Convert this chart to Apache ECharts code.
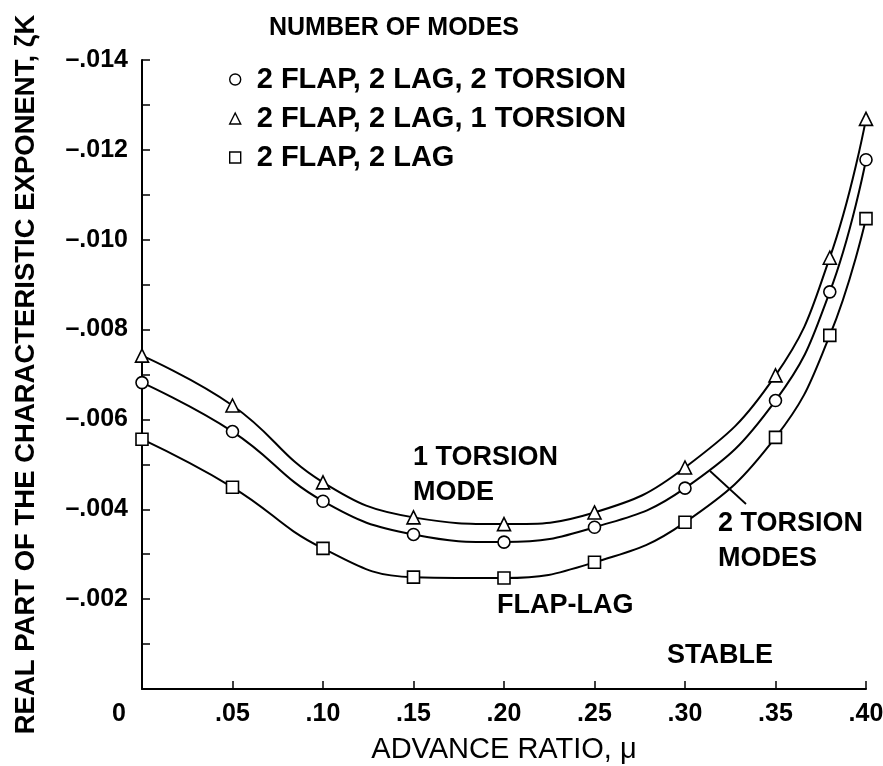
<!DOCTYPE html>
<html>
<head>
<meta charset="utf-8">
<script src="https://cdn.jsdelivr.net/npm/echarts@6/dist/echarts.min.js"></script>
<style>
  html, body { margin: 0; padding: 0; background: #fff; }
  #chart { width: 883px; height: 766px; }
</style>
</head>
<body>
<div id="chart"></div>
<script>
// Advance ratio, mu
const advanceRatio = [0, 0.05, 0.10, 0.15, 0.20, 0.25, 0.30, 0.35, 0.38, 0.40];

// Real part of the characteristic exponent for each modal representation
const flapLagTorsion2 = [-0.00682, -0.00573, -0.00418, -0.00344, -0.00327, -0.00360, -0.00447, -0.00642, -0.00884, -0.01178];
const flapLagTorsion1 = [-0.00742, -0.00631, -0.00460, -0.00382, -0.00367, -0.00393, -0.00493, -0.00698, -0.00960, -0.01269];
const flapLagOnly     = [-0.00556, -0.00449, -0.00313, -0.00249, -0.00247, -0.00282, -0.00371, -0.00560, -0.00787, -0.01047];

const seriesNames = ['2 FLAP, 2 LAG, 2 TORSION', '2 FLAP, 2 LAG, 1 TORSION', '2 FLAP, 2 LAG'];
const seriesSymbols = ['circle', 'triangle', 'rect'];

const FONT = '"Liberation Sans", Arial, Helvetica, sans-serif';

function pairs(ys) {
  return advanceRatio.map((x, i) => [x, ys[i]]);
}

function curve(name, symbol, size, ys) {
  return {
    name: name,
    type: 'line',
    data: pairs(ys),
    smooth: 0.45,
    clip: false,
    symbol: symbol,
    symbolSize: size,
    showSymbol: true,
    lineStyle: { color: '#000', width: 2 },
    itemStyle: { color: '#fff', borderColor: '#000', borderWidth: 1.6 },
    emphasis: { disabled: true },
    z: 3
  };
}

const chart = echarts.init(document.getElementById('chart'), null, { renderer: 'canvas' });

const textBase = { fill: '#000', font: 'bold 27px ' + FONT };

chart.setOption({
  animation: false,
  backgroundColor: '#fff',
  title: {
    text: 'NUMBER OF MODES',
    left: 264,
    top: 11,
    textStyle: { fontFamily: FONT, fontSize: 25, fontWeight: 'bold', color: '#000' }
  },
  legend: {
    orient: 'vertical',
    left: 224,
    top: 60,
    itemGap: 10,
    itemWidth: 11,
    itemHeight: 11,
    selectedMode: false,
    data: seriesNames.map((n, i) => ({ name: n, icon: seriesSymbols[i] })),
    itemStyle: { color: '#fff', borderColor: '#000', borderWidth: 1.4 },
    lineStyle: { width: 0 },
    textStyle: { fontFamily: FONT, fontSize: 29, fontWeight: 'bold', color: '#000', padding: [0, 0, 0, 11] }
  },
  grid: { left: 142, right: 17, top: 60, bottom: 77, containLabel: false, outerBoundsMode: 'none' },
  xAxis: {
    type: 'value',
    min: 0,
    max: 0.4,
    interval: 0.05,
    name: 'ADVANCE RATIO, \u03bc',
    nameLocation: 'middle',
    nameGap: 46,
    nameTextStyle: { fontFamily: FONT, fontSize: 29, color: '#000' },
    axisLine: { lineStyle: { color: '#000', width: 2 } },
    axisTick: { inside: true, length: 8, lineStyle: { color: '#000', width: 1.5 } },
    splitLine: { show: false },
    axisLabel: {
      margin: 13,
      fontFamily: FONT,
      fontSize: 25,
      fontWeight: 'bold',
      color: '#000',
      formatter: v => v === 0 ? '{z|0}' : '.' + v.toFixed(2).split('.')[1],
      rich: { z: { fontFamily: FONT, fontSize: 25, fontWeight: 'bold', color: '#000', padding: [0, 46, 0, 0] } }
    }
  },
  yAxis: {
    type: 'value',
    inverse: true,
    min: -0.014,
    max: 0,
    interval: 0.002,
    name: 'REAL PART OF THE CHARACTERISTIC EXPONENT, \u03b6K',
    nameLocation: 'middle',
    nameRotate: 90,
    nameGap: 102,
    nameTextStyle: { fontFamily: FONT, fontSize: 27.5, fontWeight: 'bold', color: '#000' },
    axisLine: { show: true, lineStyle: { color: '#000', width: 2 } },
    axisTick: { inside: true, length: 8, lineStyle: { color: '#000', width: 1.5 } },
    minorTick: { show: true, splitNumber: 2, length: 8, lineStyle: { color: '#000', width: 1.5 } },
    splitLine: { show: false },
    axisLabel: {
      margin: 14,
      fontFamily: FONT,
      fontSize: 25,
      fontWeight: 'bold',
      color: '#000',
      formatter: v => Math.abs(v) < 1e-9 ? '' : '\u2013.' + Math.abs(v).toFixed(3).split('.')[1]
    }
  },
  series: [
    curve(seriesNames[0], seriesSymbols[0], 12, flapLagTorsion2),
    curve(seriesNames[1], seriesSymbols[1], 13, flapLagTorsion1),
    curve(seriesNames[2], seriesSymbols[2], 12, flapLagOnly)
  ],
  graphic: [
    { type: 'text', left: 413, top: 444, style: Object.assign({ text: '1 TORSION' }, textBase) },
    { type: 'text', left: 413, top: 479, style: Object.assign({ text: 'MODE' }, textBase) },
    { type: 'text', left: 497, top: 592, style: Object.assign({ text: 'FLAP-LAG' }, textBase) },
    { type: 'text', left: 718, top: 510, style: Object.assign({ text: '2 TORSION' }, textBase) },
    { type: 'text', left: 718, top: 545, style: Object.assign({ text: 'MODES' }, textBase) },
    { type: 'text', left: 667, top: 642, style: Object.assign({ text: 'STABLE' }, textBase) },
    { type: 'line', shape: { x1: 710, y1: 471, x2: 746, y2: 504 }, style: { stroke: '#000', lineWidth: 1.8 } }
  ]
});
</script>
</body>
</html>
